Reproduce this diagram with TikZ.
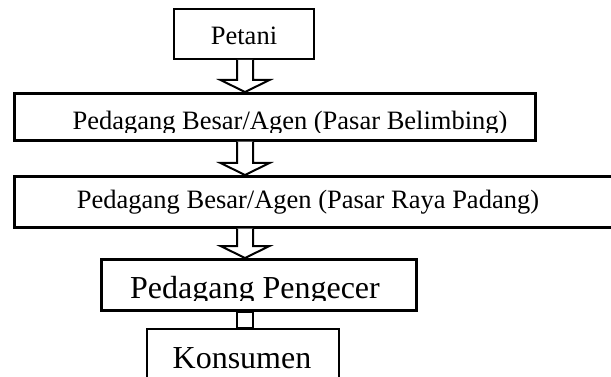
\documentclass[tikz,border=0pt]{standalone}
\usepackage{fontspec}
\setmainfont{Liberation Serif}
\usetikzlibrary{calc}
\newcommand\blockarrow[2]{%
  \draw[blk] let \p1=(#1.south), \p2=(#2.north), \p3=(axis) in
    (\x3-8pt,\y1) -- (\x3-8pt,\y2+12pt) -- (\x3-24.5pt,\y2+12pt) -- (\x3,\y2)
    -- (\x3+24.5pt,\y2+12pt) -- (\x3+8pt,\y2+12pt) -- (\x3+8pt,\y1);}
\begin{document}
\begin{tikzpicture}[x=1pt,y=-1pt,
  box/.style={draw,line width=2.6pt,inner sep=0pt,anchor=north west},
  thinbox/.style={box,line width=2pt},
  lbl/.style={font=\fontsize{26.5}{26.5}\selectfont,anchor=base,inner sep=0pt},
  big/.style={font=\fontsize{32}{32}\selectfont,anchor=base,inner sep=0pt},
  blk/.style={draw,line width=2pt,fill=white,line join=miter}]
\useasboundingbox (0,0) rectangle (611,377);
\coordinate (axis) at (245,0);
% boxes
\node[thinbox,minimum width=140pt,minimum height=50pt] (petani) at (173,8) {};
\node[box,minimum width=521pt,minimum height=47pt] (b2) at (13,92) {};
\node[box,minimum width=612pt,minimum height=51pt] (b3) at (13,175) {};
\node[box,minimum width=315pt,minimum height=51pt] (b4) at (100,258) {};
\node[thinbox,minimum width=192pt,minimum height=80pt] (b5) at (146,328) {};
% texts
\node[lbl] (tpetani) at (244,45) {Petani};
\begin{scope}
  \clip (13,92) rectangle (534,133);
  \node[lbl] (tb2) at (290,130) {Pedagang Besar/Agen (Pasar Belimbing)};
\end{scope}
\node[lbl] (tb3) at (308,209) {Pedagang Besar/Agen (Pasar Raya Padang)};
\begin{scope}
  \clip (100,258) rectangle (415,300);
  \node[big] (tb4) at (255,298) {Pedagang Pengecer};
\end{scope}
\node[big] (tb5) at (242,368) {Konsumen};
% arrows
\blockarrow{petani}{b2}
\blockarrow{b2}{b3}
\blockarrow{b3}{b4}
\draw[blk] let \p1=(b4.south), \p2=(b5.north), \p3=(axis) in
  (\x3-8pt,\y1) rectangle (\x3+8pt,\y2);
\end{tikzpicture}
\end{document}
